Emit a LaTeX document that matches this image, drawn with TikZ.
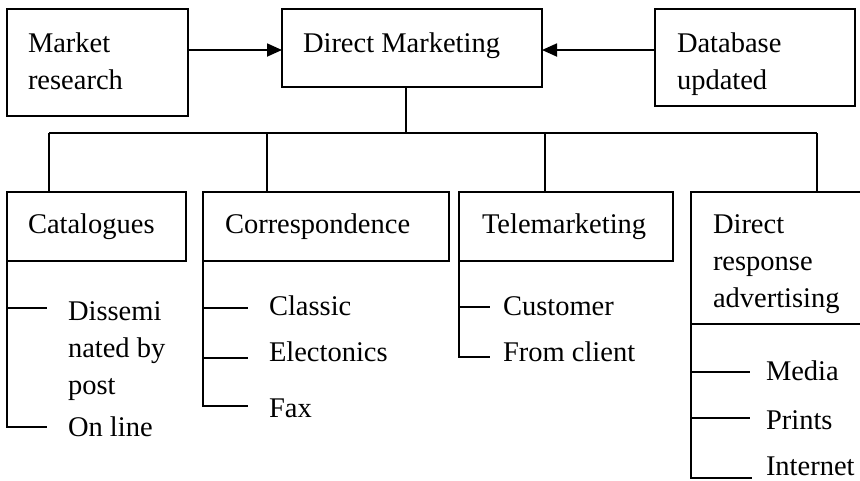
\documentclass[tikz,border=0pt]{standalone}
\usepackage{fontspec}
\setmainfont{Liberation Serif}
\usetikzlibrary{arrows.meta}
\newcommand{\mlines}[1]{\begin{tabular}[t]{@{}l@{}}#1\end{tabular}}
\renewcommand{\arraystretch}{1}
\tikzset{
  box/.style={draw, line width=1.8pt, rectangle, inner sep=0pt, outer sep=0pt, anchor=north west},
  lbl/.style={anchor=base west, inner sep=0pt, outer sep=0pt, font=\fontsize{28.5}{37}\selectfont},
  conn/.style={line width=1.8pt},
  arr/.style={line width=1.8pt, -{Triangle[length=15pt,width=13pt]}}
}
\begin{document}
\begin{tikzpicture}[x=1pt,y=-1pt]
\clip (0,0) rectangle (860,480);
\fill[white] (0,0) rectangle (860,480);
% boxes
\node[box, minimum width=181, minimum height=107] (mr) at (7,9) {};
\node[box, minimum width=260, minimum height=78] (dm) at (282,9) {};
\node[box, minimum width=200, minimum height=97] (db) at (655,9) {};
\node[box, minimum width=179, minimum height=69] (cat) at (7,192) {};
\node[box, minimum width=246, minimum height=69] (cor) at (203,192) {};
\node[box, minimum width=214, minimum height=69] (tel) at (459,192) {};
\node[box, minimum width=200, minimum height=132] (dra) at (691,192) {};
% box texts
\node[lbl] (tmr) at (28,52) {\mlines{Market\\research}};
\node[lbl] (tdm) at (303,52) {Direct Marketing};
\node[lbl] (tdb) at (677,52) {\mlines{Database\\updated}};
\node[lbl] (tcat) at (28,233) {Catalogues};
\node[lbl] (tcor) at (225,233) {Correspondence};
\node[lbl] (ttel) at (482,233) {Telemarketing};
\node[lbl] (tdra) at (713,233) {\mlines{Direct\\response\\advertising}};
% sub items
\node[lbl] (tdis) at (68,320) {\mlines{Dissemi\\nated by\\post}};
\node[lbl] (tonl) at (68,436) {On line};
\node[lbl] (tcla) at (269,315) {Classic};
\node[lbl] (tele) at (269,361) {Electonics};
\node[lbl] (tfax) at (269,417) {Fax};
\node[lbl] (tcus) at (503,315) {Customer};
\node[lbl] (tfro) at (503,361) {From client};
\node[lbl] (tmed) at (766,380) {Media};
\node[lbl] (tpri) at (766,429) {Prints};
\node[lbl] (tint) at (766,475) {Internet};
% arrows
\coordinate (ay) at (0,50);
\draw[arr] (mr.east |- ay) -- (dm.west |- ay);
\draw[arr] (db.west |- ay) -- (dm.east |- ay);
% tree
\coordinate (hub) at (406,133);
\coordinate (b1) at (49,133);
\coordinate (b2) at (267,133);
\coordinate (b3) at (545,133);
\coordinate (b4) at (817,133);
\draw[conn] (dm.south -| hub) -- (hub);
\draw[conn] (b1) -- (b4);
\draw[conn] (b1) -- (cat.north -| b1);
\draw[conn] (b2) -- (cor.north -| b2);
\draw[conn] (b3) -- (tel.north -| b3);
\draw[conn] (b4) -- (dra.north -| b4);
% catalogues sub
\coordinate (c1) at (47,308);
\coordinate (c2) at (47,427);
\draw[conn] (cat.south west) |- (c2);
\draw[conn] (cat.south west |- c1) -- (c1);
% correspondence sub
\coordinate (k1) at (248,308);
\coordinate (k2) at (248,358);
\coordinate (k3) at (248,406);
\draw[conn] (cor.south west) |- (k3);
\draw[conn] (cor.south west |- k1) -- (k1);
\draw[conn] (cor.south west |- k2) -- (k2);
% telemarketing sub
\coordinate (m1) at (490,307);
\coordinate (m2) at (490,357);
\draw[conn] (tel.south west) |- (m2);
\draw[conn] (tel.south west |- m1) -- (m1);
% direct response sub
\coordinate (d1) at (750,372);
\coordinate (d2) at (750,418);
\coordinate (d3) at (752,478);
\draw[conn] (dra.south west) |- (d3);
\draw[conn] (dra.south west |- d1) -- (d1);
\draw[conn] (dra.south west |- d2) -- (d2);
\end{tikzpicture}
\end{document}
